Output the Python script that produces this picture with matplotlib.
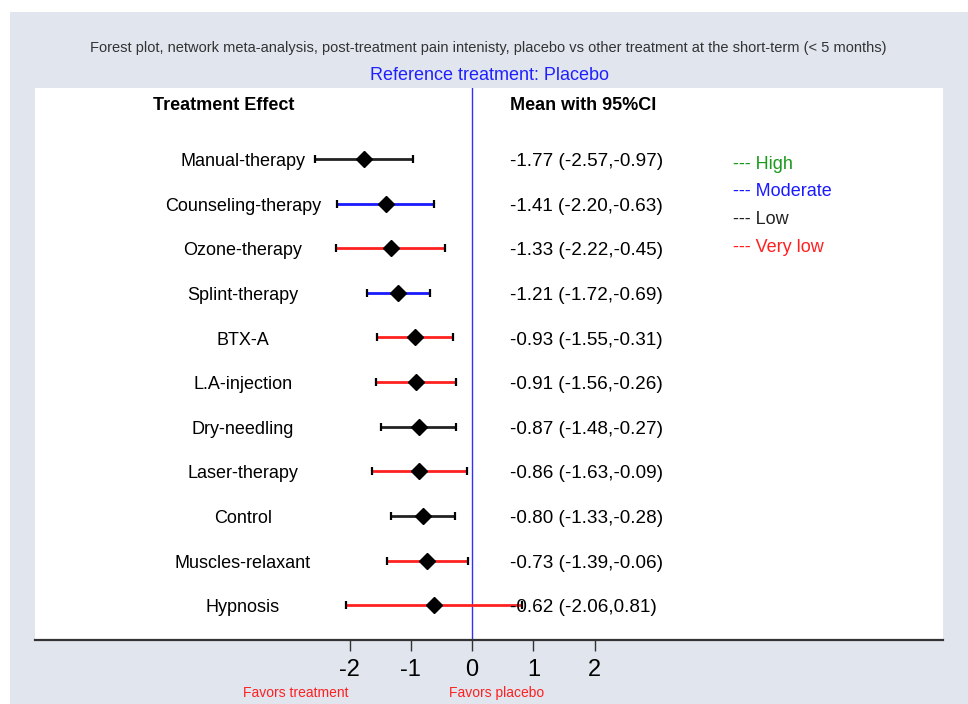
import numpy as np
import matplotlib.pyplot as plt
from matplotlib.patches import Rectangle

plt.rcParams['font.family'] = ['Liberation Sans', 'DejaVu Sans']

treatments = ["Manual-therapy", "Counseling-therapy", "Ozone-therapy", "Splint-therapy",
              "BTX-A", "L.A-injection", "Dry-needling", "Laser-therapy", "Control",
              "Muscles-relaxant", "Hypnosis"]
means = [-1.77, -1.41, -1.33, -1.21, -0.93, -0.91, -0.87, -0.86, -0.80, -0.73, -0.62]
lower = [-2.57, -2.20, -2.22, -1.72, -1.55, -1.56, -1.48, -1.63, -1.33, -1.39, -2.06]
upper = [-0.97, -0.63, -0.45, -0.69, -0.31, -0.26, -0.27, -0.09, -0.28, -0.06, 0.81]
certainty = ["Low", "Moderate", "Very low", "Moderate", "Very low", "Very low",
             "Low", "Very low", "Low", "Very low", "Very low"]

levels = ["High", "Moderate", "Low", "Very low"]
level_colors = {"High": "#1a9a1a", "Moderate": "#1a1aff", "Low": "#222222", "Very low": "#ff2020"}
xticks = [-2, -1, 0, 1, 2]

bg = "#e0e5ee"
fig = plt.figure(figsize=(9.68, 7.04), dpi=100, facecolor="white")
fig.patches.append(Rectangle((10 / 968, 0), 1, 1 - 12 / 704, transform=fig.transFigure,
                             facecolor=bg, edgecolor="none", zorder=-10))

ax = fig.add_axes([35 / 968, 1 - 640 / 704, 908 / 968, 552 / 704])
ax.set_facecolor("white")
ax.set_xlim(-7.13, 7.68)
ax.set_ylim(10.78, -1.59)

ax.axvline(0, color="#3030ff", lw=1.0, zorder=1)

y = np.arange(len(treatments))
dy = 0.06  # nudge text down a bit so it sits level with the bars
for i in range(len(treatments)):
    col = level_colors[certainty[i]]
    ax.hlines(y[i], lower[i], upper[i], color=col, lw=2.0, zorder=2)
    ax.plot([lower[i], upper[i]], [y[i], y[i]], ls="none", marker="|", color="black",
            markersize=6, mew=1.6, zorder=3)
    ax.plot(means[i], y[i], marker="D", color="black", markersize=8.5, zorder=4)
    ax.text(-3.74, y[i] + dy, treatments[i], ha="center", va="center", fontsize=13)
    ax.text(0.62, y[i] + dy, f"{means[i]:.2f} ({lower[i]:.2f},{upper[i]:.2f})",
            ha="left", va="center", fontsize=13.6, zorder=5)

ax.text(-4.06, -1.2, "Treatment Effect", ha="center", va="center", fontsize=13, fontweight="bold")
ax.text(0.62, -1.2, "Mean with 95%CI", ha="left", va="center", fontsize=13, fontweight="bold")

for k, lev in enumerate(levels):
    ax.text(4.26, 0.12 + 0.62 * k, "--- " + lev, ha="left", va="center",
            fontsize=13, color=level_colors[lev])

for s in ["left", "top", "right"]:
    ax.spines[s].set_visible(False)
ax.spines["bottom"].set_color("#333333")
ax.spines["bottom"].set_linewidth(1.6)
ax.set_yticks([])
ax.set_xticks(xticks)
ax.set_xticklabels([str(t) for t in xticks], fontsize=17)
ax.tick_params(axis="x", length=8, width=1.0, color="#333333", pad=6)

ax.text(-2.87, -0.096, "Favors treatment", transform=ax.get_xaxis_transform(),
        ha="center", va="center", fontsize=10, color="#ff2020")
ax.text(0.40, -0.096, "Favors placebo", transform=ax.get_xaxis_transform(),
        ha="center", va="center", fontsize=10, color="#ff2020")

fig.text(0.504, 1 - 48 / 704,
         "Forest plot, network meta-analysis, post-treatment pain intenisty, placebo vs other treatment at the short-term (< 5 months)",
         ha="center", va="center", fontsize=10.5, color="#333333")
fig.text(0.506, 1 - 75 / 704, "Reference treatment: Placebo", ha="center", va="center",
         fontsize=13, color="#2020ff")

fig.savefig("out.png", dpi=100, facecolor=fig.get_facecolor())
